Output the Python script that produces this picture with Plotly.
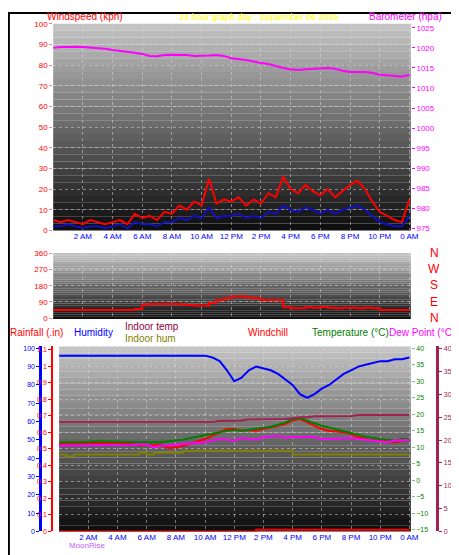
import plotly.graph_objects as go

W, H = 459, 555
def px(x): return x / W
def py(y): return 1 - y / H

hours = [i * 0.5 for i in range(49)]
tick_vals = [2, 4, 6, 8, 10, 12, 14, 16, 18, 20, 22, 24]
tick_text = ["2 AM", "4 AM", "6 AM", "8 AM", "10 AM", "12 PM", "2 PM", "4 PM", "6 PM", "8 PM", "10 PM", "0 AM"]

wind_gust = [5, 4, 5, 4, 3, 5, 4, 3, 4, 5, 3, 8, 6, 7, 5, 9, 8, 12, 10, 14, 12, 25, 13, 15, 14, 16, 12, 15, 13,
             18, 16, 26, 20, 18, 22, 19, 17, 20, 16, 19, 22, 24, 20, 14, 9, 7, 5, 4, 15]
wind_avg = [2, 2, 3, 2, 1, 2, 2, 1, 2, 3, 1, 4, 3, 3, 2, 4, 4, 6, 5, 7, 6, 11, 6, 7, 7, 8, 6, 7, 6,
            9, 8, 12, 10, 9, 11, 10, 8, 10, 8, 10, 11, 12, 10, 7, 4, 3, 2, 2, 7]
barometer = [1020.0, 1020.2, 1020.2, 1020.3, 1020.2, 1020.1, 1020.0, 1019.8, 1019.5, 1019.3, 1019.0, 1018.8,
             1018.5, 1018.0, 1017.9, 1018.2, 1018.3, 1018.3, 1018.2, 1018.0, 1018.0, 1018.1, 1018.2, 1018.0,
             1017.4, 1017.2, 1017.0, 1016.6, 1016.2, 1016.0, 1015.5, 1015.0, 1014.7, 1014.5, 1014.7, 1014.8,
             1015.0, 1015.0, 1014.8, 1014.3, 1014.0, 1014.0, 1014.0, 1013.8, 1013.3, 1013.2, 1013.0, 1012.8, 1013.3]
wind_dir = [45, 45, 45, 45, 45, 45, 45, 45, 45, 45, 45, 50, 75, 78, 78, 78, 78, 75, 72, 70, 70, 85, 100, 110,
            120, 120, 115, 110, 100, 100, 100, 60, 55, 55, 60, 58, 62, 58, 55, 57, 58, 55, 57, 55, 45, 45, 45, 45, 45]
humidity = [96, 96, 96, 96, 96, 96, 96, 96, 96, 96, 96, 96, 96, 96, 96, 96, 96, 96, 96, 96, 96, 95, 93, 88,
            82, 84, 88, 90, 89, 88, 86, 83, 80, 75, 73, 75, 78, 80, 83, 86, 88, 90, 91, 92, 93, 93, 94, 94, 95]
indoor_hum = [42, 41, 42, 42, 42, 42, 42, 42, 42, 42, 42, 43, 42, 43, 43, 43, 43, 44, 44, 44, 44, 44, 44, 44,
              44, 44, 44, 44, 44, 44, 44, 44, 42, 42, 42, 42, 42, 42, 42, 42, 42, 42, 42, 42, 42, 42, 42, 42, 42]
temperature = [11.5, 11.5, 11.5, 11.5, 11.6, 11.8, 11.8, 11.8, 11.8, 11.6, 11.5, 11.5, 11.4, 11.3, 11.5, 11.8,
               12.0, 12.3, 12.8, 13.2, 13.5, 14.0, 14.5, 15.0, 15.2, 15.0, 15.3, 15.5, 15.8, 16.2, 16.8, 17.5,
               18.5, 18.8, 18.0, 17.2, 16.5, 16.0, 15.5, 15.0, 14.5, 13.8, 13.2, 12.8, 12.5, 12.3, 12.0, 12.5, 12.5]
windchill = [11.0, 11.0, 11.0, 11.2, 11.2, 11.3, 11.3, 11.3, 11.3, 11.0, 11.0, 10.5, 10.8, 10.5, 10.8, 9.8,
             10.0, 10.5, 11.0, 11.8, 12.5, 13.5, 14.5, 15.5, 15.5, 15.0, 15.2, 15.0, 15.5, 16.0, 16.5, 17.0,
             18.2, 18.5, 17.5, 16.5, 15.5, 15.0, 14.8, 14.5, 14.0, 13.0, 12.5, 12.0, 12.0, 11.8, 11.5, 12.0, 12.2]
dew_point = [10.5, 10.5, 10.5, 10.6, 10.6, 10.6, 10.7, 10.7, 10.7, 10.7, 10.7, 10.8, 10.8, 10.0, 10.5, 10.6,
             10.8, 11.0, 11.2, 11.5, 11.5, 12.0, 12.5, 12.3, 12.0, 12.8, 12.5, 12.3, 13.0, 13.2, 13.5, 12.8,
             13.2, 13.0, 13.2, 13.0, 12.5, 12.5, 12.6, 12.8, 12.8, 12.5, 12.3, 12.0, 11.8, 11.5, 12.0, 12.0, 12.2]
indoor_temp = [24.0, 24.0, 24.0, 24.0, 24.0, 24.0, 24.0, 24.0, 24.0, 24.0, 24.0, 24.0, 24.0, 24.0, 24.0, 24.0,
               24.0, 24.0, 24.0, 24.0, 24.0, 24.0, 24.2, 24.2, 24.2, 24.3, 24.5, 24.5, 24.5, 24.5, 24.5, 24.6,
               24.8, 25.0, 25.0, 25.2, 25.2, 25.2, 25.3, 25.3, 25.3, 25.5, 25.5, 25.5, 25.5, 25.5, 25.5, 25.5, 25.5]
rainfall = [0] * 27 + [0.01] * 22

fig = go.Figure()
XR = [0, 24.1]
TOP = dict(x0=46, x1=410, y0=12, y1=222)
MID = dict(x0=46, x1=410, y0=245, y1=312)
BOT = dict(x0=52, x1=410, y0=340, y1=528)

shapes = []
def gradient(box, n=30, c0=195, c1=15):
    for i in range(n):
        c = int(c0 + (c1 - c0) * i / (n - 1))
        ya = box["y0"] + (box["y1"] - box["y0"]) * i / n
        yb = box["y0"] + (box["y1"] - box["y0"]) * (i + 1) / n
        shapes.append(dict(type="rect", xref="paper", yref="paper", layer="below",
                           x0=px(box["x0"]), x1=px(box["x1"]), y0=py(yb), y1=py(ya),
                           fillcolor=f"rgb({c},{c},{c})", line=dict(width=0)))
for b in (TOP, MID, BOT):
    gradient(b)
shapes.append(dict(type="rect", xref="paper", yref="paper", x0=0.002, x1=0.998, y0=0.002, y1=0.998,
                   line=dict(color="black", width=2)))

grid = dict(showgrid=True, gridcolor="rgba(220,220,220,0.5)", griddash="dot", gridwidth=1, zeroline=False)

fig.add_trace(go.Scatter(x=hours, y=wind_gust, mode="lines", line=dict(color="red", width=2), xaxis="x", yaxis="y"))
fig.add_trace(go.Scatter(x=hours, y=wind_avg, mode="lines", line=dict(color="#1010c0", width=2), xaxis="x", yaxis="y"))
fig.add_trace(go.Scatter(x=hours, y=barometer, mode="lines", line=dict(color="magenta", width=2), xaxis="x", yaxis="y2"))
fig.add_trace(go.Scatter(x=hours, y=wind_dir, mode="lines", line=dict(color="red", width=2, shape="hv"), xaxis="x2", yaxis="y3"))
fig.add_trace(go.Scatter(x=hours, y=humidity, mode="lines", line=dict(color="blue", width=2), xaxis="x3", yaxis="y4"))
fig.add_trace(go.Scatter(x=hours, y=indoor_hum, mode="lines", line=dict(color="#808000", width=2, shape="hv"), xaxis="x3", yaxis="y4"))
fig.add_trace(go.Scatter(x=hours, y=indoor_temp, mode="lines", line=dict(color="#a02050", width=2), xaxis="x3", yaxis="y7"))
fig.add_trace(go.Scatter(x=hours, y=windchill, mode="lines", line=dict(color="red", width=2), xaxis="x3", yaxis="y6"))
fig.add_trace(go.Scatter(x=hours, y=temperature, mode="lines", line=dict(color="green", width=2), xaxis="x3", yaxis="y6"))
fig.add_trace(go.Scatter(x=hours, y=dew_point, mode="lines", line=dict(color="magenta", width=2), xaxis="x3", yaxis="y6"))
fig.add_trace(go.Scatter(x=hours, y=rainfall, mode="lines", line=dict(color="red", width=2, shape="hv"), xaxis="x3", yaxis="y5"))

tf = lambda c, s=8: dict(color=c, size=s, family="Liberation Sans")
fig.update_layout(
    width=W, height=H, margin=dict(l=0, r=0, t=0, b=0), paper_bgcolor="white", plot_bgcolor="rgba(0,0,0,0)",
    showlegend=False, shapes=shapes,
    xaxis=dict(domain=[px(46), px(410)], range=XR, anchor="y", tickvals=tick_vals, ticktext=tick_text,
               tickfont=tf("blue"), ticks="", **grid),
    yaxis=dict(domain=[py(222), py(12)], range=[0, 100], dtick=10, tickfont=tf("red"), ticks="outside",
               ticklen=3, tickcolor="#ff8080", **grid),
    yaxis2=dict(overlaying="y", side="right", range=[974.5, 1026], dtick=5, tickfont=tf("magenta"),
                ticks="outside", ticklen=3, tickcolor="magenta", showgrid=False, zeroline=False),
    xaxis2=dict(domain=[px(46), px(410)], range=XR, anchor="y3", showticklabels=False, tickvals=tick_vals, **grid),
    yaxis3=dict(domain=[py(312), py(245)], range=[-5, 362], tickvals=[0, 90, 180, 270, 360], tickfont=tf("red"),
                ticks="outside", ticklen=3, tickcolor="#ff8080", **grid),
    xaxis3=dict(domain=[px(52), px(410)], range=XR, anchor="y5", tickvals=tick_vals, ticktext=tick_text,
                tickfont=tf("blue"), ticks="", **grid),
    yaxis4=dict(overlaying="y5", anchor="free", position=px(33), range=[0, 101], dtick=10, tickfont=tf("blue", 7),
                showline=True, linecolor="blue", linewidth=3, ticks="outside", ticklen=3, tickcolor="blue",
                showgrid=False, zeroline=False),
    yaxis5=dict(domain=[py(528), py(340)], range=[0, 1.12], dtick=0.1, tickfont=tf("red", 7), ticks="outside",
                ticklen=3, tickcolor="red", showline=True, linecolor="red", linewidth=2, **grid),
    yaxis6=dict(overlaying="y5", side="right", anchor="x3", range=[-15.5, 40.5], dtick=5, tickfont=tf("green", 7),
                ticks="outside", ticklen=3, tickcolor="#80c080", showgrid=False, zeroline=False),
    yaxis7=dict(overlaying="y5", anchor="free", side="right", position=px(437), range=[0, 40.5], dtick=5,
                tickfont=tf("#a02050", 7), showline=True, linecolor="#a02050", linewidth=3, ticks="outside",
                ticklen=3, tickcolor="#a02050", showgrid=False, zeroline=False),
)

def txt(x, y, s, c, size=10, anchor="left"):
    fig.add_annotation(x=px(x), y=py(y), xref="paper", yref="paper", text=s, showarrow=False,
                       xanchor=anchor, yanchor="middle", font=dict(color=c, size=size, family="Liberation Sans"))

txt(38, 5, "Windspeed (kph)", "red")
txt(172, 5, "24 hour graph day : September 06 2026", "yellow", 9)
txt(365, 5, "Barometer (hpa)", "magenta")
for i, s in enumerate(["N", "W", "S", "E", "N"]):
    txt(434, 245 + i * 16.5, s, "red", 12, "center")
txt(0, 326, "Rainfall (.in)", "red")
txt(65, 326, "Humidity", "blue")
txt(117, 320, "Indoor temp", "#900040")
txt(117, 332, "Indoor hum", "#808000")
txt(242, 326, "Windchill", "red")
txt(307, 326, "Temperature (°C)", "green")
txt(457, 326, "Dew Point (°C)", "magenta", 10, "right")
txt(60, 542, "MoonRise", "#c060ff", 8)

fig.write_html("out.html")
